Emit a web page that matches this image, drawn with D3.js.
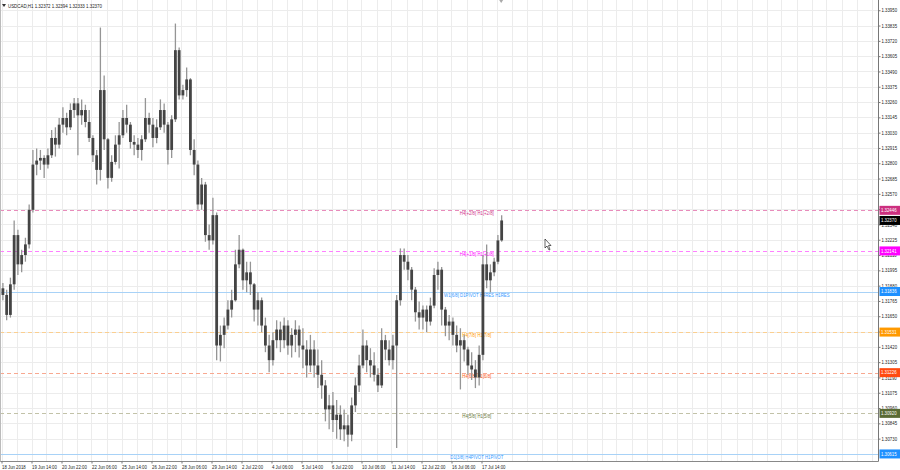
<!DOCTYPE html>
<html><head><meta charset="utf-8">
<script src="https://cdn.jsdelivr.net/npm/d3@7"></script>
<style>
body{margin:0;background:#fff;}
svg{display:block;}
text{font-family:"Liberation Sans", Arial, sans-serif;}
</style>
</head><body>
<svg id="c" width="900" height="470"></svg>
<script>
// ---------- DATA ----------
const symbolTitle = "USDCAD,H1  1.32372 1.32394 1.32333 1.32370";
// each candle aggregates 4 H1 bars, starting 18 Jun 2018 06:00
const opens = [1.3186,1.3181,1.3166,1.3189,1.3226,1.3204,1.3211,1.3219,1.3245,1.3279,1.3282,1.3284,1.3279,1.3286,1.3299,1.3294,1.3309,1.3314,1.3307,1.3320,
1.3325,1.3316,1.3320,1.3311,1.3299,1.3286,1.3275,1.3335,1.3298,1.3269,1.3281,1.3294,1.3301,1.3314,1.3309,1.3296,1.3294,1.3290,1.3298,1.3314,
1.3309,1.3299,1.3307,1.3320,1.3309,1.3290,1.3313,1.3365,1.3331,1.3335,1.3343,1.3290,1.3279,1.3249,1.3264,1.3226,1.3222,1.3241,1.3143,1.3151,
1.3158,1.3170,1.3177,1.3204,1.3215,1.3192,1.3198,1.3189,1.3170,1.3177,1.3158,1.3143,1.3132,1.3147,1.3155,1.3147,1.3158,1.3143,1.3151,1.3155,
1.3143,1.3140,1.3128,1.3140,1.3128,1.3121,1.3113,1.3095,1.3098,1.3087,1.3091,1.3080,1.3083,1.3076,1.3098,1.3113,1.3128,1.3143,1.3132,1.3128,
1.3121,1.3113,1.3147,1.3140,1.3132,1.3143,1.3177,1.3211,1.3206,1.3200,1.3185,1.3168,1.3164,1.3170,1.3161,1.3173,1.3196,1.3200,1.3170,1.3158,
1.3161,1.3151,1.3143,1.3147,1.3140,1.3128,1.3125,1.3119,1.3136,1.3204,1.3192,1.3198,1.3206,1.3222];
const highs = [1.3190,1.3185,1.3194,1.3237,1.3230,1.3215,1.3224,1.3249,1.3290,1.3291,1.3290,1.3286,1.3291,1.3305,1.3307,1.3314,1.3322,1.3318,1.3325,1.3329,
1.3329,1.3328,1.3324,1.3320,1.3301,1.3290,1.3382,1.3346,1.3299,1.3286,1.3301,1.3311,1.3320,1.3324,1.3311,1.3301,1.3299,1.3301,1.3329,1.3318,
1.3314,1.3313,1.3328,1.3325,1.3311,1.3316,1.3385,1.3367,1.3339,1.3352,1.3344,1.3298,1.3282,1.3269,1.3266,1.3234,1.3254,1.3243,1.3158,1.3164,
1.3177,1.3185,1.3215,1.3226,1.3216,1.3206,1.3206,1.3190,1.3183,1.3179,1.3164,1.3151,1.3153,1.3162,1.3161,1.3164,1.3162,1.3156,1.3162,1.3158,
1.3156,1.3147,1.3151,1.3147,1.3140,1.3132,1.3117,1.3106,1.3108,1.3102,1.3098,1.3095,1.3091,1.3104,1.3119,1.3136,1.3155,1.3147,1.3141,1.3138,
1.3126,1.3156,1.3151,1.3147,1.3151,1.3181,1.3216,1.3216,1.3211,1.3202,1.3187,1.3176,1.3173,1.3173,1.3179,1.3201,1.3206,1.3202,1.3172,1.3166,
1.3164,1.3158,1.3156,1.3151,1.3142,1.3138,1.3132,1.3143,1.3211,1.3219,1.3204,1.3209,1.3226,1.3241];
const lows = [1.3177,1.3162,1.3164,1.3185,1.3196,1.3198,1.3206,1.3216,1.3243,1.3271,1.3275,1.3269,1.3276,1.3284,1.3285,1.3291,1.3303,1.3301,1.3305,1.3314,
1.3286,1.3309,1.3307,1.3296,1.3281,1.3264,1.3267,1.3290,1.3261,1.3266,1.3279,1.3276,1.3299,1.3303,1.3291,1.3286,1.3284,1.3282,1.3296,1.3303,
1.3292,1.3295,1.3305,1.3303,1.3279,1.3284,1.3311,1.3328,1.3328,1.3330,1.3286,1.3271,1.3245,1.3245,1.3221,1.3215,1.3219,1.3132,1.3131,1.3141,
1.3155,1.3164,1.3176,1.3201,1.3185,1.3183,1.3181,1.3161,1.3158,1.3153,1.3138,1.3123,1.3128,1.3141,1.3138,1.3141,1.3136,1.3134,1.3138,1.3134,
1.3126,1.3119,1.3123,1.3119,1.3111,1.3103,1.3086,1.3080,1.3078,1.3073,1.3072,1.3071,1.3067,1.3071,1.3093,1.3108,1.3126,1.3123,1.3119,1.3116,
1.3108,1.3111,1.3132,1.3128,1.3125,1.3066,1.3173,1.3200,1.3192,1.3177,1.3161,1.3155,1.3155,1.3153,1.3158,1.3171,1.3185,1.3158,1.3150,1.3147,
1.3143,1.3138,1.3110,1.3131,1.3121,1.3117,1.3111,1.3113,1.3132,1.3186,1.3183,1.3195,1.3204,1.3221];
const closes = [1.3181,1.3166,1.3189,1.3226,1.3204,1.3211,1.3219,1.3245,1.3279,1.3282,1.3284,1.3279,1.3286,1.3299,1.3294,1.3309,1.3314,1.3307,1.3320,1.3325,
1.3316,1.3320,1.3311,1.3299,1.3286,1.3275,1.3335,1.3298,1.3269,1.3281,1.3294,1.3301,1.3314,1.3309,1.3296,1.3294,1.3290,1.3298,1.3314,1.3309,
1.3299,1.3307,1.3320,1.3309,1.3290,1.3313,1.3365,1.3331,1.3335,1.3343,1.3290,1.3279,1.3249,1.3264,1.3226,1.3222,1.3241,1.3143,1.3151,1.3158,
1.3170,1.3177,1.3204,1.3215,1.3192,1.3198,1.3189,1.3170,1.3177,1.3158,1.3143,1.3132,1.3147,1.3155,1.3147,1.3158,1.3143,1.3151,1.3155,1.3143,
1.3140,1.3128,1.3140,1.3128,1.3121,1.3113,1.3095,1.3098,1.3087,1.3091,1.3080,1.3083,1.3076,1.3098,1.3113,1.3128,1.3143,1.3132,1.3128,1.3121,
1.3113,1.3147,1.3140,1.3132,1.3143,1.3177,1.3211,1.3206,1.3200,1.3185,1.3168,1.3164,1.3170,1.3161,1.3173,1.3196,1.3200,1.3170,1.3158,1.3161,
1.3151,1.3143,1.3147,1.3140,1.3128,1.3125,1.3119,1.3136,1.3204,1.3192,1.3198,1.3206,1.3222,1.32370];
const barsPerCandle = 4;

const timeLabels = ["18 Jun 2018","19 Jun 14:00","20 Jun 22:00","22 Jun 06:00","25 Jun 14:00","26 Jun 22:00","28 Jun 06:00","29 Jun 14:00",
"2 Jul 22:00","4 Jul 06:00","5 Jul 14:00","6 Jul 22:00","10 Jul 06:00","11 Jul 14:00","12 Jul 22:00","16 Jul 06:00","17 Jul 14:00"];
const barsPerLabel = 32;

const priceTicks = [1.33950,1.33835,1.33720,1.33605,1.33490,1.33375,1.33260,1.33145,1.33030,1.32915,1.32800,1.32685,1.32570,1.32455,
1.32340,1.32225,1.32110,1.31995,1.31880,1.31765,1.31650,1.31535,1.31420,1.31305,1.31190,1.31075,1.30960,1.30845,1.30730];

const levelPrices = [1.32446,1.32141,1.31836,1.31531,1.31226,1.30920,1.30615];
const levelNames = ["H4[+2/8] H1[+2/8]","H4[+1/8] H1[+1/8]","W1[6/8] D1PIVOT H4RES H1RES","H4[7/8] H1[7/8]","H4[6/8] H1[6/8]","H4[5/8] H1[5/8]","D1[3/8] H4PIVOT H1PIVOT"];
const bidPrice = 1.32370;

// ---------- STYLE ----------
const levelStyle = [
  {box:"#cc2f7f", line:"#e88cbb", text:"#d0358a", dash:"4,3"},
  {box:"#ff00ff", line:"#ff80ff", text:"#ff00ff", dash:"4,3"},
  {box:"#1e90ff", line:"#a8d2f7", text:"#3399ff", dash:null},
  {box:"#ff9900", line:"#fbcf90", text:"#ff9900", dash:"4,3"},
  {box:"#ff4a10", line:"#f8a890", text:"#ff5a20", dash:"4,3"},
  {box:"#5a6b35", line:"#c2c2a8", text:"#6b7a40", dash:"4,3"},
  {box:"#1e90ff", line:"#a8d2f7", text:"#3399ff", dash:null}
];
const FS = 5;          // small chart font size
const SQUEEZE = 0.86;  // horizontal compression of the small chart fonts

const W = 900, plotR = 878.5, plotB = 461.5;
const svg = d3.select("#c");

const totalBars = 936;
const x = d3.scaleLinear().domain([0, totalBars]).range([1.5, 879]);
const y = d3.scaleLinear().domain([1.30562, 1.34027]).range([461, 0]);

function squeeze(sel) {
  sel.each(function() {
    const w = this.getComputedTextLength();
    this.setAttribute("textLength", w * SQUEEZE);
    this.setAttribute("lengthAdjust", "spacingAndGlyphs");
  });
}

// grid
const grid = svg.append("g");
grid.selectAll("line.v").data(d3.range(0, totalBars, barsPerLabel/2)).join("line")
  .attr("x1", d => Math.round(x(d)) + 0.5).attr("x2", d => Math.round(x(d)) + 0.5)
  .attr("y1", 0).attr("y2", plotB).attr("stroke", "#ececec").attr("stroke-width", 1);
grid.selectAll("line.h").data(priceTicks).join("line")
  .attr("x1", 0).attr("x2", plotR)
  .attr("y1", d => Math.round(y(d)) + 0.5).attr("y2", d => Math.round(y(d)) + 0.5)
  .attr("stroke", "#ececec").attr("stroke-width", 1);

// level lines
const lv = svg.append("g");
lv.selectAll("line").data(levelPrices).join("line")
  .attr("x1", 0).attr("x2", plotR)
  .attr("y1", d => Math.round(y(d)) + 0.5).attr("y2", d => Math.round(y(d)) + 0.5)
  .attr("stroke", (d,i) => levelStyle[i].line)
  .attr("stroke-dasharray", (d,i) => levelStyle[i].dash)
  .attr("stroke-width", 1);

// candles
const candles = opens.map((o,i) => ({o, h:highs[i], l:lows[i], c:closes[i], t:i*barsPerCandle + 1.5}));
const cg = svg.append("g");
cg.selectAll("line").data(candles).join("line")
  .attr("x1", d => x(d.t)).attr("x2", d => x(d.t))
  .attr("y1", d => y(d.h)).attr("y2", d => y(d.l))
  .attr("stroke", "#959595").attr("stroke-width", 1.3);
cg.selectAll("rect").data(candles).join("rect")
  .attr("x", d => x(d.t) - 1.4).attr("width", 2.8)
  .attr("y", d => y(Math.max(d.o, d.c)))
  .attr("height", d => Math.max(1, Math.abs(y(d.o) - y(d.c))))
  .attr("fill", "#444");

// level texts
lv.selectAll("text").data(levelPrices).join("text")
  .attr("x", x(507)).attr("y", d => y(d) + 5)
  .attr("text-anchor", "middle").attr("font-size", FS)
  .attr("fill", (d,i) => levelStyle[i].text)
  .text((d,i) => levelNames[i])
  .call(squeeze);

// frame
svg.append("line").attr("x1", plotR).attr("x2", plotR).attr("y1", 0).attr("y2", plotB).attr("stroke", "#777");
svg.append("line").attr("x1", 0).attr("x2", plotR).attr("y1", plotB).attr("y2", plotB).attr("stroke", "#888");
svg.append("line").attr("x1", 0.5).attr("x2", 0.5).attr("y1", 0).attr("y2", plotB).attr("stroke", "#bbb");

// price axis
const ya = svg.append("g").attr("transform", `translate(${plotR},0)`)
  .call(d3.axisRight(y).tickValues(priceTicks).tickFormat(d3.format(".5f")).tickSize(2).tickPadding(1));
ya.select(".domain").remove();
ya.selectAll("line").attr("stroke", "#777");
ya.selectAll("text").attr("font-size", FS).attr("fill", "#222")
  .attr("font-family", '"Liberation Sans", Arial, sans-serif').call(squeeze);

// time axis
const xa = svg.append("g").attr("transform", `translate(0,${plotB})`)
  .call(d3.axisBottom(x).tickValues(timeLabels.map((d,k) => k*barsPerLabel))
    .tickFormat((d,k) => timeLabels[k]).tickSize(2).tickPadding(1.5));
xa.select(".domain").remove();
xa.selectAll("line").attr("stroke", "#777");
xa.selectAll("text").attr("font-size", FS).attr("fill", "#222").attr("text-anchor", "start")
  .attr("font-family", '"Liberation Sans", Arial, sans-serif').call(squeeze);

// level price boxes
const boxes = svg.append("g");
const boxData = levelPrices.map((p,i) => ({p, fill: levelStyle[i].box}));
boxData.push({p: bidPrice, fill: "#000"});
boxes.selectAll("rect").data(boxData).join("rect")
  .attr("x", plotR + 1).attr("width", W - plotR - 1)
  .attr("y", d => y(d.p) - 4.5).attr("height", 9)
  .attr("fill", d => d.fill);
boxes.selectAll("text").data(boxData).join("text")
  .attr("x", plotR + 2.5).attr("y", d => y(d.p) + 1.8)
  .attr("font-size", FS).attr("fill", "#fff")
  .text(d => d3.format(".5f")(d.p))
  .call(squeeze);

// title
svg.append("path").attr("d", "M2,4 L6,4 L4,7 Z").attr("fill", "#333");
svg.append("text").attr("x", 8).attr("y", 7.5).attr("font-size", 5.5).attr("fill", "#222").text(symbolTitle)
  .each(function(){ this.setAttribute("textLength", this.getComputedTextLength()*0.8); this.setAttribute("lengthAdjust","spacingAndGlyphs"); });

// chart shift marker
svg.append("path").attr("d", `M${x(533)-2},0 L${x(533)+2},0 L${x(533)},3 Z`).attr("fill", "#aaa");

// mouse cursor
svg.append("path").attr("d", "M545,239 L545,248 L547,246 L549,250 L550,249.5 L548.5,245.5 L551,245.5 Z")
  .attr("fill", "#fff").attr("stroke", "#000").attr("stroke-width", 0.6);
</script>
</body></html>
